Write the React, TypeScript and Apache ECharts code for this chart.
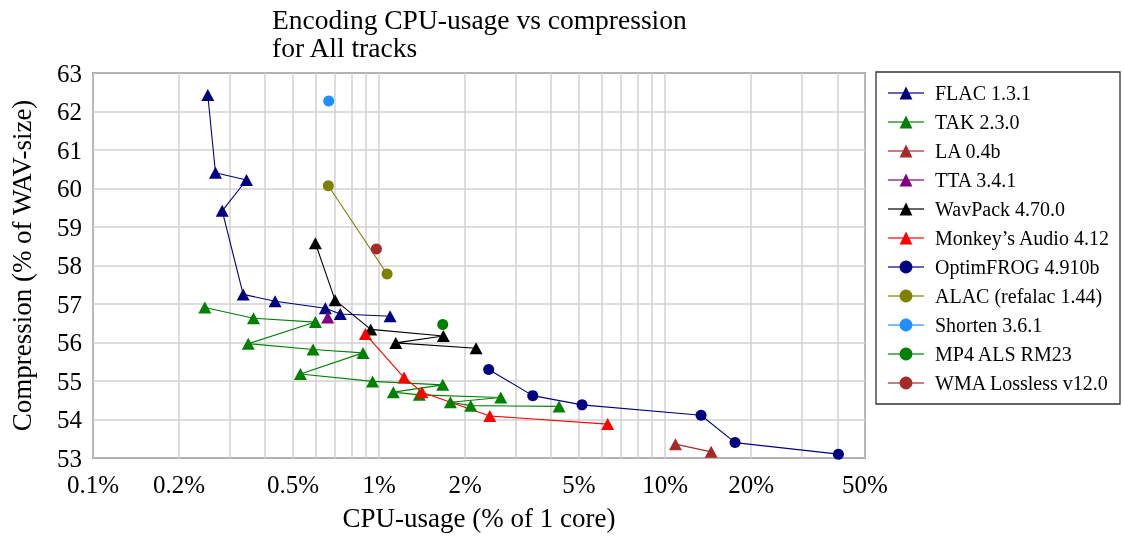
import React, { useEffect, useRef } from "react";
import * as echarts from "echarts";

const FONT = "'Liberation Serif', 'DejaVu Serif', serif";

const titleLines = ["Encoding CPU-usage vs compression", "for All tracks"];
const xAxisName = "CPU-usage (% of 1 core)";
const yAxisName = "Compression (% of WAV-size)";
const xTickLabels = [0.1, 0.2, 0.5, 1, 2, 5, 10, 20, 50];
const xGridValues = [0.1, 0.2, 0.3, 0.4, 0.5, 0.6, 0.7, 0.8, 0.9, 1, 2, 3, 4, 5, 6, 7, 8, 9, 10, 20, 30, 40, 50];

const flacCpu = [0.252, 0.268, 0.344, 0.283, 0.335, 0.433, 0.649, 0.732, 1.093];
const flacComp = [62.43, 60.41, 60.22, 59.42, 57.25, 57.07, 56.89, 56.74, 56.68];

const takCpu = [0.246, 0.364, 0.599, 0.349, 0.588, 0.879, 0.531, 0.949, 1.67, 1.122, 1.383, 2.664, 1.776, 2.092, 4.26];
const takComp = [56.91, 56.63, 56.53, 55.97, 55.82, 55.73, 55.18, 54.99, 54.9, 54.71, 54.64, 54.57, 54.45, 54.36, 54.34];

const laCpu = [10.87, 14.49];
const laComp = [53.36, 53.16];

const ttaCpu = [0.6615];
const ttaComp = [56.65];

const wavpackCpu = [0.599, 0.702, 0.935, 1.678, 1.144, 2.184];
const wavpackComp = [58.58, 57.1, 56.34, 56.17, 55.99, 55.85];

const monkeyCpu = [0.896, 1.223, 1.413, 2.439, 6.3];
const monkeyComp = [56.22, 55.09, 54.71, 54.09, 53.88];

const ofrCpu = [2.418, 3.446, 5.126, 13.36, 17.57, 40.36];
const ofrComp = [55.3, 54.62, 54.38, 54.11, 53.4, 53.1];

const alacCpu = [0.665, 1.067];
const alacComp = [60.07, 57.78];

const shortenCpu = [0.667];
const shortenComp = [62.27];

const alsCpu = [1.67];
const alsComp = [56.47];

const wmaCpu = [0.979];
const wmaComp = [58.43];

const seriesDefs = [
  { name: "FLAC 1.3.1", cpu: flacCpu, comp: flacComp, color: "#000080", symbol: "triangle" },
  { name: "TAK 2.3.0", cpu: takCpu, comp: takComp, color: "#008000", symbol: "triangle" },
  { name: "LA 0.4b", cpu: laCpu, comp: laComp, color: "#a52a2a", symbol: "triangle" },
  { name: "TTA 3.4.1", cpu: ttaCpu, comp: ttaComp, color: "#800080", symbol: "triangle" },
  { name: "WavPack 4.70.0", cpu: wavpackCpu, comp: wavpackComp, color: "#000000", symbol: "triangle" },
  { name: "Monkey\u2019s Audio 4.12", cpu: monkeyCpu, comp: monkeyComp, color: "#ff0000", symbol: "triangle" },
  { name: "OptimFROG 4.910b", cpu: ofrCpu, comp: ofrComp, color: "#000080", symbol: "circle" },
  { name: "ALAC (refalac 1.44)", cpu: alacCpu, comp: alacComp, color: "#808000", symbol: "circle" },
  { name: "Shorten 3.6.1", cpu: shortenCpu, comp: shortenComp, color: "#1e90ff", symbol: "circle" },
  { name: "MP4 ALS RM23", cpu: alsCpu, comp: alsComp, color: "#008000", symbol: "circle" },
  { name: "WMA Lossless v12.0", cpu: wmaCpu, comp: wmaComp, color: "#a52a2a", symbol: "circle" },
];

const fmtPct = (v: number) => `${+Number(v).toPrecision(3)}%`;

export default function App() {
  const ref = useRef<HTMLDivElement>(null);
  useEffect(() => {
    if (!ref.current) return;
    const chart = echarts.init(ref.current, null, { renderer: "svg" });
    const series = seriesDefs.map((d) => ({
      name: d.name,
      type: "line",
      data: d.cpu.map((c, i) => [c, d.comp[i]]),
      symbol: d.symbol,
      symbolSize: d.symbol === "triangle" ? [13, 12] : 11,
      showAllSymbol: true,
      lineStyle: { color: d.color, width: 1.1 },
      itemStyle: { color: d.color },
      emphasis: { disabled: true },
      z: 3,
    }));
    const titleStyle = { fontFamily: FONT, fontSize: 27.5, fontWeight: "normal", color: "#000", lineHeight: 27 };
    chart.setOption({
      animation: false,
      title: [
        { text: titleLines[0], left: 272, top: 6, padding: 0, textStyle: titleStyle },
        { text: titleLines[1], left: 272, top: 34, padding: 0, textStyle: titleStyle },
      ],
      grid: {
        left: 93,
        top: 73,
        width: 772,
        height: 385,
        show: true,
        borderColor: "#222",
        borderWidth: 1.3,
        backgroundColor: "transparent",
      },
      xAxis: {
        type: "log",
        logBase: 10,
        min: 0.1,
        max: 50,
        name: xAxisName,
        nameLocation: "middle",
        nameGap: 46,
        nameTextStyle: { fontFamily: FONT, fontSize: 27, color: "#000" },
        axisLine: { show: false },
        axisTick: { show: false, customValues: xGridValues },
        axisLabel: {
          customValues: xTickLabels,
          formatter: (v: number) => fmtPct(v),
          margin: 14,
          fontFamily: FONT,
          fontSize: 25,
          color: "#000",
          hideOverlap: false,
        },
        splitLine: { show: true, lineStyle: { color: "#d2d2d2", width: 1.5 } },
      },
      yAxis: {
        type: "value",
        min: 53,
        max: 63,
        interval: 1,
        name: yAxisName,
        nameLocation: "middle",
        nameGap: 58,
        nameTextStyle: { fontFamily: FONT, fontSize: 27, color: "#000" },
        axisLine: { show: false },
        axisTick: { show: false },
        axisLabel: { margin: 11, fontFamily: FONT, fontSize: 25, color: "#000" },
        splitLine: { show: true, lineStyle: { color: "#d2d2d2", width: 1.5 } },
      },
      legend: {
        orient: "vertical",
        left: 876,
        top: 72,
        padding: [11, 10, 11, 11],
        borderColor: "#333",
        borderWidth: 1.3,
        itemWidth: 36,
        itemHeight: 16,
        itemGap: 9,
        selectedMode: false,
        lineStyle: { opacity: 0.6 },
        textStyle: { fontFamily: FONT, fontSize: 20, color: "#000", padding: [0, 0, 0, 6] },
        data: seriesDefs.map((d) => d.name),
      },
      series,
    });
    return () => chart.dispose();
  }, []);
  return <div ref={ref} style={{ position: "fixed", left: 0, top: 0, width: 1124, height: 538 }} />;
}
